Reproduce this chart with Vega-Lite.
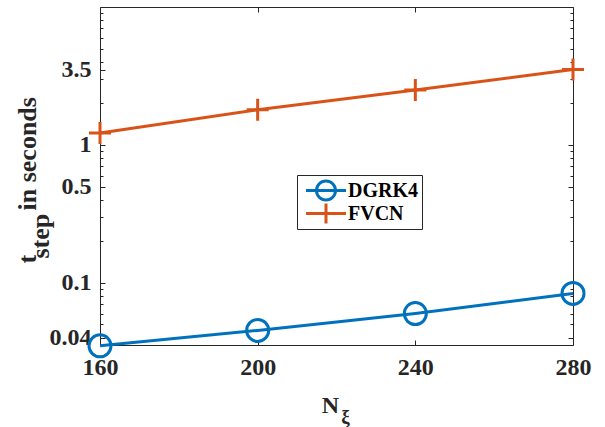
{
  "$schema": "https://vega.github.io/schema/vega-lite/v6.json",
  "width": 473,
  "height": 338,
  "autosize": {"type": "none"},
  "padding": {"left": 100, "top": 7, "right": 32, "bottom": 82},
  "background": "white",
  "config": {"view": {"stroke": null}, "font": "Liberation Serif", "axis": {"grid": false}},
  "data": {"values": [
    {"n": 160, "t": 0.035, "method": "DGRK4"},
    {"n": 200, "t": 0.0453, "method": "DGRK4"},
    {"n": 240, "t": 0.060, "method": "DGRK4"},
    {"n": 280, "t": 0.084, "method": "DGRK4"},
    {"n": 160, "t": 1.22, "method": "FVCN"},
    {"n": 200, "t": 1.8, "method": "FVCN"},
    {"n": 240, "t": 2.5, "method": "FVCN"},
    {"n": 280, "t": 3.52, "method": "FVCN"}
  ]},
  "encoding": {
    "x": {"field": "n", "type": "quantitative", "scale": {"domain": [160, 280], "nice": false, "zero": false}},
    "y": {"field": "t", "type": "quantitative", "scale": {"type": "log", "domain": [0.0355, 10], "nice": false}}
  },
  "layer": [
    {
      "mark": {"type": "line", "strokeWidth": 3},
      "encoding": {
        "x": {"field": "n", "type": "quantitative", "axis": {
          "orient": "bottom", "values": [160, 200, 240, 280], "ticks": false, "domain": false, "labelFlush": false,
          "labelFont": "Liberation Serif", "labelFontWeight": "bold", "labelFontSize": 24, "labelColor": "#262626", "labelPadding": 10,
          "title": "N", "titleFont": "Liberation Serif", "titleFontWeight": "bold", "titleFontSize": 24, "titleColor": "#262626",
          "titleX": 230, "titleY": 67, "titleAlign": "center", "titleBaseline": "alphabetic"
        }},
        "y": {"field": "t", "type": "quantitative", "axis": {
          "orient": "left", "values": [0.04, 0.1, 0.5, 1, 3.5], "format": "~g", "ticks": false, "domain": false, "labelFlush": false,
          "labelFont": "Liberation Serif", "labelFontWeight": "bold", "labelFontSize": 24, "labelColor": "#262626", "labelPadding": 9,
          "title": "t", "titleFont": "Liberation Serif", "titleFontWeight": "bold", "titleFontSize": 26, "titleColor": "#262626",
          "titleAngle": 270, "titleAlign": "left", "titleBaseline": "alphabetic", "titleX": -65, "titleY": 256
        }},
        "color": {"field": "method", "type": "nominal", "legend": null,
          "scale": {"domain": ["DGRK4", "FVCN"], "range": ["#0072BD", "#D95319"]}}
      }
    },
    {
      "mark": {"type": "point", "filled": false, "size": 484, "strokeWidth": 3, "opacity": 1},
      "encoding": {
        "x": {"field": "n", "type": "quantitative", "axis": {
          "orient": "bottom", "values": [160, 200, 240, 280], "labels": false,
          "title": "ξ", "titleFont": "Liberation Serif", "titleFontWeight": "bold", "titleFontSize": 19, "titleColor": "#262626",
          "titleX": 245, "titleY": 77, "titleAlign": "center", "titleBaseline": "alphabetic",
          "domain": true, "domainColor": "#262626", "domainWidth": 1, "tickColor": "#262626", "tickSize": -5, "tickWidth": 1
        }},
        "y": {"field": "t", "type": "quantitative", "axis": {
          "orient": "left", "values": [0.04, 0.05, 0.06, 0.07, 0.08, 0.09, 0.1, 0.2, 0.3, 0.4, 0.5, 0.6, 0.7, 0.8, 0.9, 1, 2, 3, 3.5, 4, 5, 6, 7, 8, 9],
          "labels": false,
          "title": "step", "titleFont": "Liberation Serif", "titleFontWeight": "bold", "titleFontSize": 26, "titleColor": "#262626",
          "titleAngle": 270, "titleAlign": "left", "titleBaseline": "alphabetic", "titleX": -52, "titleY": 251,
          "domain": true, "domainColor": "#262626", "domainWidth": 1, "tickColor": "#262626", "tickWidth": 1,
          "tickSize": {"condition": {"test": "indexof([0.04, 0.1, 0.5, 1, 3.5], datum.value) >= 0", "value": -5}, "value": -3}
        }},
        "color": {"field": "method", "type": "nominal", "legend": null,
          "scale": {"domain": ["DGRK4", "FVCN"], "range": ["#0072BD", "#D95319"]}},
        "shape": {"field": "method", "type": "nominal", "legend": null,
          "scale": {"domain": ["DGRK4", "FVCN"], "range": ["circle", "M-1,0H1M0,-1V1"]}}
      }
    },
    {
      "mark": {"type": "point", "opacity": 0},
      "encoding": {
        "x": {"field": "n", "type": "quantitative", "axis": {
          "orient": "top", "values": [160, 200, 240, 280], "labels": false, "title": null,
          "domain": true, "domainColor": "#262626", "domainWidth": 1, "tickColor": "#262626", "tickSize": -5, "tickWidth": 1
        }},
        "y": {"field": "t", "type": "quantitative", "axis": {
          "orient": "right", "values": [0.04, 0.05, 0.06, 0.07, 0.08, 0.09, 0.1, 0.2, 0.3, 0.4, 0.5, 0.6, 0.7, 0.8, 0.9, 1, 2, 3, 3.5, 4, 5, 6, 7, 8, 9],
          "labels": false,
          "title": "in seconds", "titleFont": "Liberation Serif", "titleFontWeight": "bold", "titleFontSize": 26, "titleColor": "#262626",
          "titleAngle": 270, "titleAlign": "left", "titleBaseline": "alphabetic", "titleX": -538, "titleY": 203,
          "domain": true, "domainColor": "#262626", "domainWidth": 1, "tickColor": "#262626", "tickWidth": 1,
          "tickSize": {"condition": {"test": "indexof([0.04, 0.1, 0.5, 1, 3.5], datum.value) >= 0", "value": -5}, "value": -3}
        }}
      }
    },
    {
      "transform": [{"filter": "false"}],
      "mark": {"type": "point", "filled": false, "strokeWidth": 3},
      "encoding": {
        "x": {"field": "n", "type": "quantitative", "axis": null},
        "y": {"field": "t", "type": "quantitative", "axis": null},
        "color": {"field": "method", "type": "nominal",
          "scale": {"domain": ["DGRK4", "FVCN"], "range": ["#0072BD", "#D95319"]},
          "legend": {
            "orient": "none", "legendX": 197, "legendY": 168, "title": null,
            "strokeColor": "#262626", "fillColor": "white", "padding": 4,
            "labelFont": "Liberation Serif", "labelFontWeight": "bold", "labelFontSize": 20, "labelColor": "#000000",
            "symbolSize": 100, "symbolStrokeWidth": 3, "symbolOffset": 15, "labelOffset": 12, "rowPadding": 0, "clipHeight": 23, "symbolOpacity": 1
          }},
        "shape": {"field": "method", "type": "nominal",
          "scale": {"domain": ["DGRK4", "FVCN"], "range": ["M-4,0H4M1.9,0A1.9,1.9,0,1,1,-1.9,0A1.9,1.9,0,1,1,1.9,0", "M-4,0H4M0,-2V2"]},
          "legend": {
            "orient": "none", "legendX": 197, "legendY": 168, "title": null,
            "strokeColor": "#262626", "fillColor": "white", "padding": 4,
            "labelFont": "Liberation Serif", "labelFontWeight": "bold", "labelFontSize": 20, "labelColor": "#000000",
            "symbolSize": 100, "symbolStrokeWidth": 3, "symbolOffset": 15, "labelOffset": 12, "rowPadding": 0, "clipHeight": 23, "symbolOpacity": 1
          }}
      }
    }
  ],
  "resolve": {
    "axis": {"x": "independent", "y": "independent"},
    "scale": {"shape": "independent", "color": "independent"}
  }
}
